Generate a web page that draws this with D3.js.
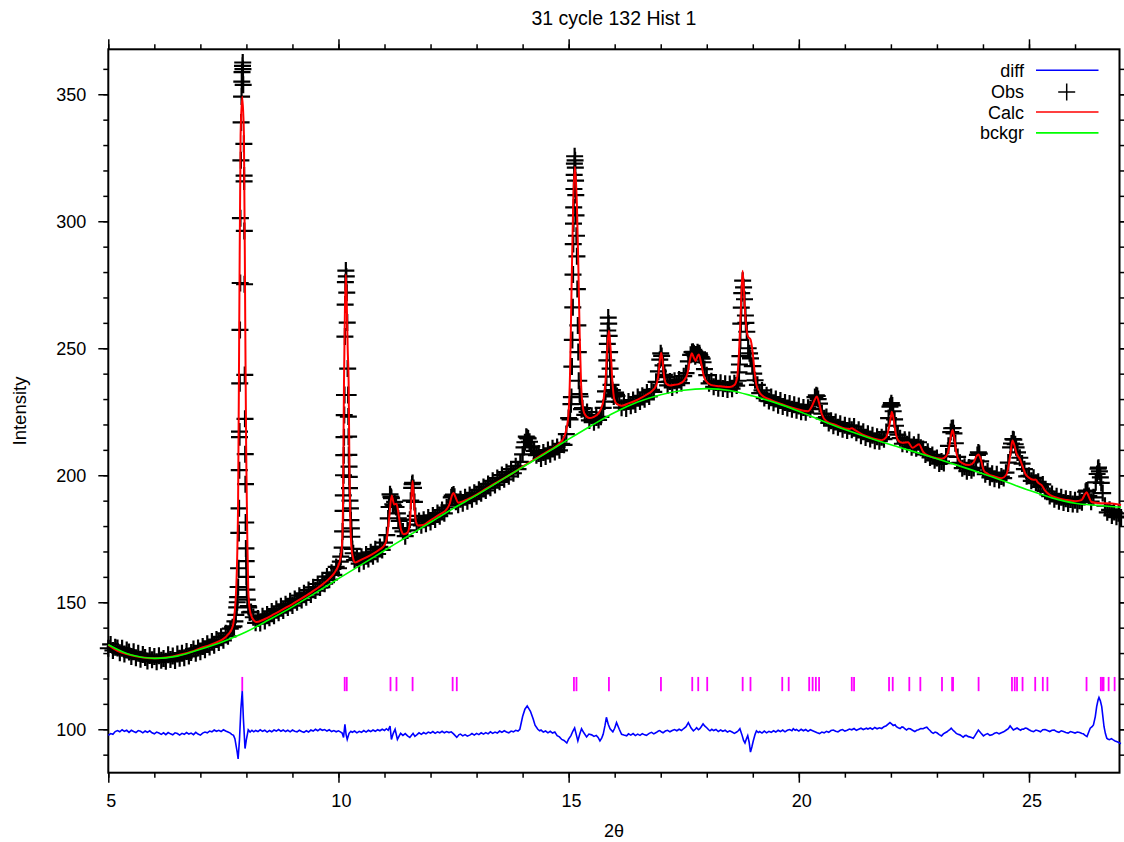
<!DOCTYPE html>
<html>
<head>
<meta charset="utf-8">
<script src="https://d3js.org/d3.v7.min.js"></script>
<style>
  body { margin: 0; background: #fff; }
  svg { display: block; }
  text { font-family: "Liberation Sans", Arial, Helvetica, sans-serif; fill: #000; }
</style>
</head>
<body>
<svg id="chart"></svg>
<script>
// ---- data (2theta, intensity) ----

// observed scan
var obsScan = [
  [5.00,131.9],[5.05,133.4],[5.10,131.0],[5.15,132.3],[5.20,132.0],[5.25,130.1],[5.30,131.9],[5.35,129.6],[5.40,131.2],[5.45,130.4],
  [5.50,128.6],[5.55,130.5],[5.60,128.2],[5.65,129.9],[5.70,127.6],[5.75,129.4],[5.80,128.3],[5.85,126.9],[5.90,129.0],[5.95,127.4],
  [6.00,128.6],[6.05,126.6],[6.10,128.9],[6.15,127.2],[6.20,127.9],[6.25,126.8],[6.30,129.3],[6.35,127.5],[6.40,128.8],[6.45,127.1],
  [6.50,129.6],[6.55,128.0],[6.60,129.9],[6.65,128.2],[6.70,130.6],[6.75,128.8],[6.80,130.2],[6.85,131.6],[6.90,129.9],[6.95,132.0],
  [7.00,130.5],[7.05,132.6],[7.10,131.3],[7.15,133.7],[7.20,132.4],[7.25,134.6],[7.30,133.1],[7.35,135.3],[7.40,134.2],[7.45,136.4],
  [7.50,135.0],[7.55,137.8],[7.60,136.6],[7.65,139.6],[7.70,140.2],[7.75,142.5],[7.80,150.0],[7.85,215.0],[7.90,355.0],[7.95,318.0],
  [8.00,160.0],[8.05,148.0],[8.10,146.2],[8.15,144.1],[8.20,141.9],[8.25,143.6],[8.30,141.8],[8.35,144.5],[8.40,142.6],[8.45,145.2],
  [8.50,143.9],[8.55,146.4],[8.60,144.7],[8.65,147.3],[8.70,145.9],[8.75,148.4],[8.80,146.8],[8.85,149.2],[8.90,147.9],[8.95,150.4],
  [9.00,148.7],[9.05,151.3],[9.10,150.0],[9.15,152.6],[9.20,150.9],[9.25,153.5],[9.30,152.0],[9.35,154.8],[9.40,153.1],[9.45,155.9],
  [9.50,154.6],[9.55,157.2],[9.60,155.8],[9.65,158.7],[9.70,157.3],[9.75,160.1],[9.80,158.9],[9.85,161.6],[9.90,160.8],[9.95,163.9],
  [10.00,163.4],[10.05,168.0],[10.10,186.0],[10.15,276.0],[10.20,242.0],[10.25,190.0],[10.30,171.0],[10.35,166.6],[10.40,167.4],[10.45,165.2],
  [10.50,167.9],[10.55,166.1],[10.60,168.8],[10.65,167.0],[10.70,169.7],[10.75,168.1],[10.80,170.9],[10.85,169.0],[10.90,171.8],[10.95,170.6],
  [11.00,173.5],[11.05,176.4],[11.10,187.5],[11.15,191.0],[11.20,188.0],[11.25,187.5],[11.30,183.0],[11.35,179.2],[11.40,177.9],[11.45,176.0],
  [11.50,178.3],[11.55,182.5],[11.60,196.5],[11.65,189.5],[11.70,180.6],[11.75,182.0],[11.80,180.3],[11.85,182.5],[11.90,180.9],[11.95,183.4],
  [12.00,181.6],[12.05,184.2],[12.10,182.6],[12.15,185.1],[12.20,183.9],[12.25,186.3],[12.30,185.0],[12.35,187.3],[12.40,188.2],[12.45,191.3],
  [12.50,192.4],[12.55,189.6],[12.60,188.4],[12.65,190.6],[12.70,189.0],[12.75,191.3],[12.80,189.8],[12.85,192.2],[12.90,190.6],[12.95,193.1],
  [13.00,191.7],[13.05,194.3],[13.10,192.9],[13.15,195.4],[13.20,194.0],[13.25,196.6],[13.30,195.1],[13.35,197.8],[13.40,196.2],[13.45,198.9],
  [13.50,197.4],[13.55,200.1],[13.60,198.4],[13.65,201.2],[13.70,199.6],[13.75,202.4],[13.80,200.8],[13.85,203.5],[13.90,202.4],[13.95,205.3],
  [14.00,208.2],[14.05,213.0],[14.10,214.8],[14.15,213.2],[14.20,211.4],[14.25,209.6],[14.30,207.9],[14.35,208.6],[14.40,206.6],[14.45,209.0],
  [14.50,207.4],[14.55,209.9],[14.60,208.3],[14.65,210.6],[14.70,209.2],[14.75,211.1],[14.80,209.8],[14.85,212.4],[14.90,212.0],[14.95,216.2],
  [15.00,222.5],[15.05,228.0],[15.10,291.0],[15.15,316.0],[15.20,259.0],[15.25,231.0],[15.30,226.4],[15.35,223.8],[15.40,224.9],[15.45,221.6],
  [15.50,223.4],[15.55,220.9],[15.60,222.7],[15.65,221.8],[15.70,223.0],[15.75,226.5],[15.80,233.0],[15.85,257.0],[15.90,242.0],[15.95,233.5],
  [16.00,231.8],[16.05,231.2],[16.10,228.9],[16.15,226.6],[16.20,228.7],[16.25,226.3],[16.30,229.0],[16.35,227.4],[16.40,229.6],[16.45,227.9],
  [16.50,230.8],[16.55,229.0],[16.60,231.3],[16.65,229.9],[16.70,232.6],[16.75,231.0],[16.80,233.6],[16.85,232.8],[16.90,236.8],[16.95,240.9],
  [17.00,248.0],[17.05,243.3],[17.10,238.6],[17.15,235.4],[17.20,236.9],[17.25,234.6],[17.30,237.2],[17.35,235.5],[17.40,237.7],[17.45,236.3],
  [17.50,239.0],[17.55,240.2],[17.60,244.8],[17.65,247.4],[17.70,248.6],[17.75,246.9],[17.80,248.4],[17.85,247.2],[17.90,245.9],[17.95,241.8],
  [18.00,239.4],[18.05,236.2],[18.10,237.0],[18.15,234.8],[18.20,236.5],[18.25,234.3],[18.30,236.4],[18.35,234.2],[18.40,236.0],[18.45,233.8],
  [18.50,235.9],[18.55,234.1],[18.60,236.2],[18.65,235.3],[18.70,240.5],[18.75,266.0],[18.80,274.0],[18.85,260.0],[18.90,250.0],[18.95,246.0],
  [19.00,243.0],[19.05,237.4],[19.10,235.6],[19.15,232.3],[19.20,233.4],[19.25,230.4],[19.30,231.5],[19.35,229.2],[19.40,230.8],[19.45,228.5],
  [19.50,230.0],[19.55,227.6],[19.60,229.4],[19.65,227.1],[19.70,228.6],[19.75,226.5],[19.80,228.3],[19.85,226.0],[19.90,227.8],[19.95,225.6],
  [20.00,227.3],[20.05,225.0],[20.10,226.7],[20.15,224.8],[20.20,226.6],[20.25,226.0],[20.30,227.6],[20.35,230.8],[20.40,231.2],[20.45,228.2],
  [20.50,224.3],[20.55,222.4],[20.60,222.9],[20.65,220.6],[20.70,221.5],[20.75,219.5],[20.80,221.0],[20.85,218.9],[20.90,220.3],[20.95,218.1],
  [21.00,219.7],[21.05,217.6],[21.10,219.3],[21.15,217.9],[21.20,219.2],[21.25,216.7],[21.30,217.9],[21.35,215.6],[21.40,217.1],[21.45,214.9],
  [21.50,216.3],[21.55,214.3],[21.60,215.8],[21.65,213.6],[21.70,215.2],[21.75,213.4],[21.80,215.0],[21.85,214.2],[21.90,217.0],[21.95,222.5],
  [22.00,227.6],[22.05,225.2],[22.10,219.5],[22.15,216.0],[22.20,214.6],[22.25,212.4],[22.30,214.0],[22.35,212.2],[22.40,213.9],[22.45,211.0],
  [22.50,212.0],[22.55,210.6],[22.60,213.0],[22.65,210.8],[22.70,210.3],[22.75,208.2],[22.80,209.3],[22.85,207.0],[22.90,208.0],[22.95,205.9],
  [23.00,206.8],[23.05,204.6],[23.10,205.4],[23.15,204.8],[23.20,207.4],[23.25,211.6],[23.30,217.0],[23.35,218.6],[23.40,212.6],[23.45,207.2],
  [23.50,204.9],[23.55,202.8],[23.60,203.4],[23.65,201.6],[23.70,203.1],[23.75,202.0],[23.80,202.9],[23.85,205.8],[23.90,209.0],[23.95,205.5],
  [24.00,202.6],[24.05,200.4],[24.10,201.5],[24.15,199.2],[24.20,200.6],[24.25,198.6],[24.30,200.4],[24.35,198.1],[24.40,199.5],[24.45,198.9],
  [24.50,201.0],[24.55,205.0],[24.60,211.0],[24.65,214.2],[24.70,212.2],[24.75,209.0],[24.80,206.9],[24.85,204.6],[24.90,202.4],[24.95,199.6],
  [25.00,199.8],[25.05,197.8],[25.10,199.0],[25.15,197.1],[25.20,197.4],[25.25,195.4],[25.30,196.4],[25.35,193.8],[25.40,193.6],[25.45,191.8],
  [25.50,192.6],[25.55,190.6],[25.60,191.7],[25.65,189.8],[25.70,191.3],[25.75,189.3],[25.80,190.8],[25.85,188.9],[25.90,190.5],[25.95,188.7],
  [26.00,190.2],[26.05,188.6],[26.10,190.0],[26.15,189.4],[26.20,191.4],[26.25,194.0],[26.30,191.8],[26.35,189.6],[26.40,191.3],[26.45,197.2],
  [26.50,202.6],[26.55,199.2],[26.60,193.0],[26.65,188.0],[26.70,185.4],[26.75,186.4],[26.80,184.2],[26.85,185.5],[26.90,183.7],[26.95,185.0],
  [27.00,183.4]
];

// observed scan, extra points on the steep flanks of the peaks
var obsPeaks = [
  [7.73,140.5],[7.77,145],[7.79,148],[7.81,152],[7.82,156],[7.83,163.4],[7.835,177.3],[7.84,187],[7.845,202],
  [7.85,217.2],[7.855,236.2],[7.86,257.2],[7.865,275.7],[7.87,301.2],[7.88,324],[7.885,338.9],[7.895,349.1],[7.905,358.7],
  [7.92,362.5],[7.915,361.2],[7.925,359.9],[7.93,353.7],[7.945,330.5],[7.95,315.7],[7.955,296.2],[7.96,275.2],[7.965,239.5],
  [7.97,222.2],[7.975,208.3],[7.98,196.5],[7.985,181.4],[7.99,171.2],[7.995,166.2],[8.01,155],[8.02,151],[8.04,148.5],[8.07,146],
  [10.04,166],[10.08,171.5],[10.09,177.9],[10.105,192.1],[10.11,200],[10.115,207.9],[10.12,215],
  [10.125,223.7],[10.13,231.6],[10.14,254.6],[10.145,267.2],[10.16,280.6],[10.17,278.3],[10.18,271.9],
  [10.19,260.1],[10.21,231.6],[10.215,223.1],[10.22,215.2],[10.225,208],[10.23,203.4],[10.235,199.4],
  [10.24,194.9],[10.26,187],[10.27,182.3],[10.28,179.1],[10.29,175.8],[10.32,169.3],
  [11.08,183],[11.12,192.5],[11.14,191.5],[11.18,188.5],[11.22,189.5],[11.28,185],[11.32,182],
  [11.57,190],[11.59,195],[11.61,197],[11.63,195],[11.67,184],
  [12.47,192],[12.52,191.5],
  [14.03,211],[14.08,215.2],[14.12,214.5],[14.18,211],
  [15.03,222],[15.06,230.8],[15.07,242.8],[15.08,253.3],[15.09,266.1],[15.095,279],
  [15.105,299.1],[15.11,305.5],[15.115,312.7],[15.12,318.3],[15.125,322.7],[15.13,325.6],[15.14,324],[15.145,321.1],
  [15.155,310.3],[15.16,302.3],[15.17,294.3],[15.18,286.2],[15.19,273.3],[15.21,248.5],
  [15.22,237.2],[15.24,232],[15.28,226],
  [15.78,229],[15.82,238.8],[15.83,245.2],[15.84,251.7],[15.86,262.1],[15.87,259.7],[15.88,254.9],
  [15.89,248.5],[15.92,235.6],[15.98,231],[16.02,232.5],
  [16.98,245.5],[17.02,247],[17.08,239.5],
  [17.68,248.5],[17.72,248],[17.76,247.5],[17.84,248],[17.88,246.5],[17.92,244.5],
  [18.68,237.2],[18.71,243.6],[18.72,246.9],[18.73,253.3],[18.74,259.7],[18.76,271.7],
  [18.78,276.6],[18.82,269.3],[18.84,262.9],[18.87,256.5],[18.93,248],[18.99,243],[19.02,240],
  [20.38,231.5],[20.42,230],
  [21.98,227],[22.01,228.4],[22.03,227.5],[22.08,222],
  [23.32,218.5],[23.37,216.5],
  [23.88,208],[23.92,208.5],
  [24.62,212.5],[24.67,214],[24.72,211],
  [26.23,193.5],[26.27,193.8],
  [26.48,200.5],[26.51,203],[26.53,201.5],[26.57,197]
];

// calculated profile
var calc = [
  [5.0,133.2],[5.2,130.9],[5.4,129.6],[5.6,128.7],[5.8,128.2],[6.0,128.0],[6.2,128.2],[6.4,128.7],[6.6,129.5],[6.8,130.5],
  [7.0,131.9],[7.2,133.1],[7.4,134.6],[7.5,135.6],[7.6,137.3],[7.68,139.4],[7.72,142],[7.75,147],[7.78,156],[7.80,168],
  [7.82,190],[7.845,260],[7.874,334],[7.91,349],[7.946,334],[7.975,260],[7.995,210],[8.02,175],[8.04,155],[8.07,147.5],
  [8.12,144],[8.22,142.2],[8.4,143.4],[8.6,145.3],[8.8,147.3],[9.0,149.3],[9.2,151.5],[9.4,153.8],[9.6,156.3],[9.8,159.3],
  [9.9,161.3],[10.0,164.5],[10.04,167],[10.07,171],[10.09,178],[10.10,190],[10.11,215],[10.12,237],[10.14,265],[10.16,279],
  [10.18,268],[10.20,250],[10.22,237],[10.24,200],[10.26,180],[10.28,172],[10.31,168],[10.36,165.7],[10.5,166.8],[10.7,168.6],
  [10.9,170.9],[11.0,172.5],[11.05,175],[11.10,183],[11.155,192],[11.21,188.5],[11.26,188.8],[11.31,184],[11.36,178.5],
  [11.42,176.8],[11.50,177.5],[11.55,181],[11.58,190],[11.61,197.7],[11.64,190],[11.68,182],[11.73,180.2],[11.84,180.4],
  [12.0,182.3],[12.2,184.6],[12.35,186.6],[12.42,189],[12.46,191.8],[12.50,193],[12.54,191.5],[12.60,189.2],[12.70,189.7],
  [12.8,190.5],[13.0,192.4],[13.2,194.6],[13.4,196.8],[13.6,198.9],[13.8,201.0],[14.0,203.4],[14.2,205.6],[14.4,207.8],
  [14.6,210.0],[14.8,212.5],[14.90,215],[14.95,218],[15.00,225],[15.03,240],[15.06,270],[15.10,308],[15.137,321.5],
  [15.18,306],[15.21,283],[15.24,255],[15.27,236],[15.30,228],[15.35,224],[15.45,222.5],[15.55,223],[15.60,223.5],
  [15.70,226],[15.76,230],[15.80,237],[15.84,250],[15.875,257],[15.91,250],[15.95,237],[15.99,230],[16.05,228],[16.15,227.4],
  [16.3,228.3],[16.5,229.8],[16.7,231.8],[16.8,233],[16.9,235.3],[16.95,239.5],[16.98,245],[17.01,248.2],[17.04,245],
  [17.07,239.5],[17.12,236],[17.20,235.3],[17.30,235.6],[17.40,236],[17.50,237.2],[17.58,240],[17.63,245],[17.675,248],
  [17.72,246.3],[17.76,245],[17.80,247],[17.83,247.5],[17.88,244],[17.93,239.5],[17.98,237.2],[18.10,235.5],[18.30,235],
  [18.50,234.7],[18.60,235.5],[18.66,238.5],[18.70,248],[18.74,265],[18.78,280.5],[18.82,268],[18.86,258],[18.90,254.5],
  [18.95,253.5],[19.00,248],[19.04,240.5],[19.08,235.5],[19.15,232.5],[19.25,230.8],[19.4,229.6],[19.6,228.2],[19.8,226.9],
  [20.0,225.9],[20.10,225.4],[20.20,225.2],[20.28,227],[20.34,229.5],[20.39,231],[20.44,228.5],[20.50,224],[20.60,221.3],
  [20.8,219.8],[21.0,218.4],[21.1,218.2],[21.15,218.5],[21.22,217.8],[21.4,215.9],[21.6,214.6],[21.8,213.8],[21.9,215],
  [21.95,218],[22.00,223],[22.02,225],[22.06,222],[22.10,217],[22.17,213.5],[22.25,212.8],[22.37,213],[22.47,210.8],
  [22.61,212.2],[22.70,209.2],[22.84,207.5],[23.0,206.7],[23.10,206.5],[23.20,207.5],[23.26,210.5],[23.30,215],[23.34,217.8],
  [23.38,214.5],[23.42,209],[23.48,205.8],[23.55,204.8],[23.70,204],[23.80,205.2],[23.86,207.5],[23.90,208.2],[23.95,206.5],
  [24.02,201.8],[24.10,200.6],[24.25,199.5],[24.40,198.8],[24.50,200],[24.56,204],[24.60,209],[24.64,213.7],[24.68,212],
  [24.73,208.5],[24.80,206.5],[24.86,203.5],[24.92,200.6],[25.00,199],[25.10,198.2],[25.14,198.3],[25.20,197],[25.27,196.2],
  [25.35,194],[25.46,192.2],[25.60,191.2],[25.80,190.3],[26.00,189.8],[26.14,190.2],[26.20,192],[26.25,193.3],[26.30,191.5],
  [26.36,189.5],[26.50,189.1],[26.80,188.9],[27.00,188.3]
];

// background
var bckgr = [
  [5.0,133.3],[5.5,129.2],[6.0,127.9],[6.5,128.8],[7.0,131.5],[7.5,134.6],[8.0,138.4],[8.5,143.2],[9.0,148.2],[9.5,153.7],
  [10.0,159.3],[10.5,164.8],[11.0,170.4],[11.5,175.9],[12.0,181.5],[12.5,187.0],[13.0,192.2],[13.5,197.7],[14.0,203.2],
  [14.5,208.6],[15.0,214.2],[15.5,219.6],[16.0,224.7],[16.5,228.8],[17.0,231.7],[17.5,233.5],[18.0,234.1],[18.5,233.4],
  [19.0,231.2],[19.5,228.5],[20.0,225.2],[20.5,221.5],[21.0,218.0],[21.5,214.9],[22.0,212.0],[22.5,209.3],[23.0,206.5],
  [23.5,203.6],[24.0,200.6],[24.5,197.4],[25.0,194.1],[25.5,191.1],[26.0,189.0],[26.5,188.1],[27.0,187.4]
];

// difference curve (offset)
var diff = [
  [5.00,97.6],[5.05,98.3],[5.10,98.0],[5.15,99.1],[5.20,99.5],[5.25,99.0],[5.30,99.8],[5.35,99.2],[5.40,99.6],[5.45,98.8],
  [5.50,99.6],[5.55,99.1],[5.60,98.7],[5.65,99.5],[5.70,99.2],[5.75,98.6],[5.80,99.3],[5.85,98.8],[5.90,99.4],[5.95,98.6],
  [6.00,98.2],[6.05,98.9],[6.10,98.5],[6.15,98.0],[6.20,98.6],[6.25,97.9],[6.30,98.7],[6.35,98.2],[6.40,97.8],[6.45,98.6],
  [6.50,98.3],[6.55,97.7],[6.60,98.4],[6.65,98.0],[6.70,98.7],[6.75,98.1],[6.80,98.5],[6.85,97.9],[6.90,98.8],[6.95,98.1],
  [7.00,97.7],[7.05,98.5],[7.10,98.9],[7.15,98.6],[7.20,99.3],[7.25,99.0],[7.30,99.7],[7.35,99.2],[7.40,99.6],[7.45,99.1],
  [7.50,99.8],[7.55,99.3],[7.60,98.9],[7.65,98.5],[7.68,98.0],[7.72,97.6],[7.75,96.3],[7.80,91],[7.82,88.3],[7.85,96],
  [7.88,108],[7.91,115.1],[7.935,104],[7.97,92.4],[8.0,96],[8.04,99.8],[8.08,98.9],[8.12,99.6],[8.16,99.0],[8.20,99.5],
  [8.25,99.1],[8.30,99.8],[8.35,99.2],[8.40,99.6],[8.45,98.9],[8.50,99.5],[8.55,99.0],[8.60,99.7],[8.65,99.3],[8.70,99.9],
  [8.75,99.2],[8.80,99.7],[8.85,99.1],[8.90,99.6],[8.95,99.0],[9.00,99.7],[9.05,99.2],[9.10,99.0],[9.15,99.6],[9.20,99.1],
  [9.25,98.8],[9.30,99.4],[9.35,98.9],[9.40,99.7],[9.45,99.3],[9.50,100.0],[9.55,99.4],[9.60,100.1],[9.65,99.6],[9.70,99.9],
  [9.75,99.3],[9.80,99.8],[9.85,99.1],[9.90,99.5],[9.95,99.0],[10.00,99.4],[10.05,98.9],[10.08,98.5],[10.11,96.8],[10.14,101.9],
  [10.165,98],[10.19,96],[10.23,98.4],[10.27,99.2],[10.30,98.8],[10.35,99.3],[10.40,98.6],[10.45,99.2],[10.50,98.8],[10.55,99.5],
  [10.60,98.9],[10.65,99.6],[10.70,99.1],[10.75,99.7],[10.80,99.2],[10.85,99.8],[10.90,99.4],[10.95,100.0],[11.00,99.5],[11.04,100.2],
  [11.08,99.6],[11.12,101.3],[11.15,96],[11.19,98.4],[11.23,100],[11.28,96],[11.32,97.4],[11.35,98.4],[11.40,97.6],[11.45,98.3],
  [11.50,97.4],[11.55,96.8],[11.60,97.9],[11.62,98.4],[11.66,97.2],[11.70,97.8],[11.75,98.6],[11.80,98.0],[11.85,98.7],[11.90,98.2],
  [11.95,98.9],[12.00,98.5],[12.05,99.1],[12.10,98.4],[12.15,99.0],[12.20,98.6],[12.25,99.2],[12.30,98.6],[12.35,99.1],[12.40,98.7],
  [12.45,99.0],[12.50,98.2],[12.57,96.8],[12.62,97.9],[12.65,98.1],[12.70,97.4],[12.75,97.9],[12.80,97.3],[12.86,97.8],[12.90,98.3],
  [12.95,97.7],[13.00,98.4],[13.05,97.9],[13.10,98.6],[13.15,98.1],[13.20,98.7],[13.25,98.2],[13.30,99.0],[13.35,98.4],[13.40,98.9],
  [13.45,98.5],[13.50,99.3],[13.55,98.8],[13.60,99.4],[13.65,98.9],[13.70,98.6],[13.75,99.3],[13.80,99.0],[13.85,99.6],[13.90,99.3],
  [13.94,100.0],[14.0,105],[14.05,107.9],[14.10,109.2],[14.17,107.1],[14.23,104],[14.27,101.6],[14.33,100],[14.37,99.4],[14.40,99.7],
  [14.45,98.9],[14.50,99.3],[14.55,98.6],[14.60,99.2],[14.65,98.5],[14.70,98.9],[14.75,97.5],[14.80,97.0],[14.85,96],[14.90,95.6],
  [14.96,94.6],[15.00,96.2],[15.05,97.5],[15.09,99.2],[15.13,100.5],[15.17,97.6],[15.20,95.4],[15.24,98.0],[15.28,100.2],[15.33,98.6],
  [15.39,97],[15.44,98.1],[15.50,97.8],[15.55,97.2],[15.60,97.6],[15.64,96.8],[15.68,95.4],[15.72,96.6],[15.75,98],[15.79,101.5],
  [15.82,104.7],[15.86,102],[15.90,100.2],[15.96,99],[16.00,100.4],[16.04,102.6],[16.1,100],[16.15,98],[16.20,97.7],[16.26,97.4],
  [16.30,98.2],[16.35,97.7],[16.40,98.3],[16.45,97.5],[16.50,98.1],[16.55,97.6],[16.60,98.3],[16.65,97.8],[16.69,97.6],[16.75,98.4],
  [16.80,98.8],[16.85,98.2],[16.90,98.7],[16.95,99.3],[16.98,99.5],[17.02,98.9],[17.05,98.6],[17.10,99.3],[17.15,99.6],[17.20,99.0],
  [17.25,99.5],[17.30,99.9],[17.35,99.4],[17.40,100.0],[17.45,99.5],[17.50,100.3],[17.55,101.0],[17.60,102.6],[17.66,100.5],[17.71,99.4],
  [17.75,100.0],[17.78,100.6],[17.82,99.8],[17.85,100.2],[17.88,101.0],[17.92,102.1],[17.96,101.2],[18.0,100.6],[18.04,99.8],[18.07,99.4],
  [18.11,100.0],[18.15,99.5],[18.20,99.9],[18.25,99.1],[18.30,99.7],[18.35,99.2],[18.40,99.6],[18.45,98.9],[18.50,99.4],[18.55,98.9],
  [18.60,98.4],[18.65,98.9],[18.69,99.5],[18.72,100.2],[18.77,97.5],[18.80,95.6],[18.83,94.6],[18.86,96.2],[18.89,97.5],[18.92,95.0],
  [18.95,91],[18.98,93.0],[19.01,95.4],[19.05,98.0],[19.08,99.4],[19.12,98.7],[19.15,99.1],[19.20,98.5],[19.25,99.3],[19.30,98.6],
  [19.35,99.2],[19.40,98.8],[19.45,99.4],[19.50,98.9],[19.55,99.6],[19.60,99.1],[19.65,99.7],[19.70,99.0],[19.75,99.6],[19.80,99.9],
  [19.85,99.4],[19.88,100.2],[19.92,99.6],[19.95,99.9],[20.00,99.3],[20.05,100.0],[20.10,99.4],[20.15,99.9],[20.20,99.2],[20.25,99.8],
  [20.30,99.4],[20.35,99.0],[20.40,98.6],[20.45,98.3],[20.50,98.9],[20.55,98.6],[20.60,99.2],[20.65,98.8],[20.70,99.5],[20.75,99.7],
  [20.80,99.2],[20.85,99.0],[20.90,99.6],[20.95,99.9],[21.00,99.3],[21.05,99.6],[21.10,100.1],[21.15,99.8],[21.20,100.3],[21.25,99.6],
  [21.30,100.0],[21.35,100.4],[21.40,99.9],[21.47,100.4],[21.50,100.1],[21.55,100.5],[21.60,100.0],[21.65,100.7],[21.70,100.2],[21.75,100.6],
  [21.80,100.3],[21.85,101.0],[21.90,101.4],[21.94,102.0],[21.98,102.6],[22.02,102.0],[22.05,101.5],[22.09,101.8],[22.12,101.0],[22.16,100.6],
  [22.20,100.3],[22.24,100.9],[22.27,100.8],[22.30,100.2],[22.34,99.7],[22.38,100.3],[22.42,100.2],[22.47,99.6],[22.52,99.1],[22.56,99.6],
  [22.60,99.8],[22.65,100.3],[22.70,100.2],[22.74,100.6],[22.78,100.8],[22.82,100.0],[22.85,99.5],[22.88,98.9],[22.92,98.4],[22.96,98.9],
  [23.00,98.6],[23.05,97.9],[23.10,97.4],[23.14,98.2],[23.18,98.6],[23.22,99.0],[23.25,99.5],[23.28,99.9],[23.31,100.4],[23.34,99.8],
  [23.37,99.3],[23.42,98.4],[23.46,98.0],[23.50,97.8],[23.54,97.3],[23.57,96.9],[23.61,97.5],[23.64,97.6],[23.68,97.1],[23.71,97.0],
  [23.75,96.8],[23.79,96.5],[23.82,97.3],[23.85,98.2],[23.90,99.7],[23.95,98.6],[24.01,97.4],[24.05,97.9],[24.10,98.3],[24.15,97.6],
  [24.20,97.8],[24.25,98.4],[24.30,98.7],[24.35,98.2],[24.40,98.6],[24.45,99.0],[24.50,99.6],[24.55,100.2],[24.59,101.3],[24.63,100.4],
  [24.66,99.7],[24.70,100.1],[24.74,100.5],[24.78,100.0],[24.82,99.6],[24.85,100.1],[24.88,100.0],[24.92,100.5],[24.95,100.4],[25.00,99.8],
  [25.05,99.3],[25.10,99.1],[25.15,99.7],[25.20,99.4],[25.25,99.0],[25.30,99.8],[25.35,99.9],[25.40,99.5],[25.45,99.1],[25.50,99.6],
  [25.55,99.7],[25.60,99.1],[25.65,98.8],[25.70,99.4],[25.75,99.1],[25.80,98.7],[25.85,98.5],[25.90,99.1],[25.95,98.8],[26.00,98.5],
  [26.05,98.9],[26.10,98.7],[26.15,98.3],[26.18,98.2],[26.22,97.6],[26.26,97.1],[26.30,99.0],[26.33,100.4],[26.37,101.0],[26.40,101.7],
  [26.44,105],[26.47,108.9],[26.50,111.5],[26.52,112.5],[26.55,111.2],[26.58,108.9],[26.63,101],[26.66,98.3],[26.69,96.5],[26.72,96.1],
  [26.75,95.9],[26.79,96.3],[26.83,95.8],[26.87,95.4],[26.90,95.2],[26.94,94.9],[26.98,94.5],[27.0,94.4]
];

// reflection positions
var refl = [7.91, 10.135, 10.18, 11.13, 11.26, 11.61, 12.48, 12.57, 15.115, 15.17, 15.875, 17.005, 17.685, 17.815, 18.01,
  18.78, 18.95, 19.64, 19.78, 20.225, 20.30, 20.37, 20.44, 21.15, 21.20, 21.96, 22.04, 22.40, 22.64, 23.11, 23.33, 23.35,
  23.905, 24.63, 24.69, 24.74, 24.86, 25.135, 25.30, 25.40, 26.25, 26.56, 26.59, 26.62, 26.73, 26.86];

var xMajor = [5, 10, 15, 20, 25];
var xMinor = d3.range(5, 27, 1);
var yMajor = [100, 150, 200, 250, 300, 350];
var yMinor = d3.range(90, 370, 10);

var legendItems = ["diff", "Obs", "Calc", "bckgr"];
var legendColors = ["#0000ff", null, "#ff0000", "#00ff00"];

// ---- layout ----
var W = 1124, H = 842;
var plot = {left: 108.3, right: 1119.5, top: 49.3, bottom: 772.7};

var xScale = d3.scaleLinear().domain([5, 26.966]).range([plot.left, plot.right]);
var yScale = d3.scaleLinear().domain([82.9, 367.7]).range([plot.bottom, plot.top]);

var svg = d3.select("#chart").attr("width", W).attr("height", H);

function styleAxis(g) {
  g.select(".domain").remove();
  g.selectAll(".tick line").attr("stroke", "#000").attr("stroke-width", 1.5);
  g.selectAll(".tick text").style("font-size", "18px").attr("fill", "#000");
}

// bottom
svg.append("g").attr("transform", "translate(0," + plot.bottom + ")")
    .call(d3.axisBottom(xScale).tickValues(xMinor).tickSize(5).tickSizeOuter(0).tickFormat(""))
    .call(styleAxis);
svg.append("g").attr("transform", "translate(0," + plot.bottom + ")")
    .call(d3.axisBottom(xScale).tickValues(xMajor).tickSize(10).tickSizeOuter(0).tickPadding(12).tickFormat(d3.format("d")))
    .call(styleAxis)
    .selectAll(".tick text").attr("dx", 2.4);
// top
svg.append("g").attr("transform", "translate(0," + plot.top + ")")
    .call(d3.axisTop(xScale).tickValues(xMinor).tickSize(5).tickSizeOuter(0).tickFormat(""))
    .call(styleAxis);
svg.append("g").attr("transform", "translate(0," + plot.top + ")")
    .call(d3.axisTop(xScale).tickValues(xMajor).tickSize(10).tickSizeOuter(0).tickFormat(""))
    .call(styleAxis);
// left
svg.append("g").attr("transform", "translate(" + plot.left + ",0)")
    .call(d3.axisLeft(yScale).tickValues(yMinor).tickSize(5).tickSizeOuter(0).tickFormat(""))
    .call(styleAxis);
svg.append("g").attr("transform", "translate(" + plot.left + ",0)")
    .call(d3.axisLeft(yScale).tickValues(yMajor).tickSize(10).tickSizeOuter(0).tickPadding(12).tickFormat(d3.format("d")))
    .call(styleAxis);
// right
svg.append("g").attr("transform", "translate(" + plot.right + ",0)")
    .call(d3.axisRight(yScale).tickValues(yMinor).tickSize(5).tickSizeOuter(0).tickFormat(""))
    .call(styleAxis);
svg.append("g").attr("transform", "translate(" + plot.right + ",0)")
    .call(d3.axisRight(yScale).tickValues(yMajor).tickSize(10).tickSizeOuter(0).tickFormat(""))
    .call(styleAxis);

// frame
svg.append("rect")
    .attr("x", plot.left).attr("y", plot.top)
    .attr("width", plot.right - plot.left).attr("height", plot.bottom - plot.top)
    .attr("fill", "none").attr("stroke", "#000").attr("stroke-width", 2);

// observed "+" markers
var half = 8.5;
function plus(cx, cy) {
  return "M" + (cx - half) + "," + cy + "H" + (cx + half) + "M" + cx + "," + (cy - half) + "V" + (cy + half);
}
var obsAll = obsScan.concat(obsPeaks);
svg.append("path")
    .attr("d", obsAll.map(function(d) { return plus(xScale(d[0]), yScale(d[1])); }).join(""))
    .attr("fill", "none").attr("stroke", "#000").attr("stroke-width", 2.2);

var smooth = d3.line()
    .x(function(d) { return xScale(d[0]); })
    .y(function(d) { return yScale(d[1]); })
    .curve(d3.curveMonotoneX);
var plain = d3.line()
    .x(function(d) { return xScale(d[0]); })
    .y(function(d) { return yScale(d[1]); });

// calc
svg.append("path").attr("d", smooth(calc))
    .attr("fill", "none").attr("stroke", "#ff0000").attr("stroke-width", 2);
// background
svg.append("path").attr("d", smooth(bckgr))
    .attr("fill", "none").attr("stroke", "#00ff00").attr("stroke-width", 1.6);
// diff
svg.append("path").attr("d", plain(diff))
    .attr("fill", "none").attr("stroke", "#0000ff").attr("stroke-width", 1.6);

// reflection ticks
svg.append("g").selectAll("line").data(refl).join("line")
    .attr("x1", function(d) { return xScale(d); })
    .attr("x2", function(d) { return xScale(d); })
    .attr("y1", yScale(115))
    .attr("y2", yScale(120.6))
    .attr("stroke", "#ff00ff").attr("stroke-width", 1.8);

// titles
svg.append("text").attr("x", (plot.left + plot.right) / 2).attr("y", 25)
    .attr("text-anchor", "middle").style("font-size", "19.5px")
    .text("31 cycle 132 Hist 1");
svg.append("text").attr("x", (plot.left + plot.right) / 2).attr("y", 837)
    .attr("text-anchor", "middle").style("font-size", "18px")
    .text("2θ");
svg.append("text").attr("transform", "translate(26," + ((plot.top + plot.bottom) / 2) + ") rotate(-90)")
    .attr("text-anchor", "middle").style("font-size", "18.5px")
    .text("Intensity");

// legend
var legend = svg.append("g");
legendItems.forEach(function(name, i) {
  var base = 76.7 + i * 20.9;
  legend.append("text").attr("x", 1024).attr("y", base)
      .attr("text-anchor", "end").style("font-size", "18px").text(name);
  if (legendColors[i]) {
    legend.append("line").attr("x1", 1036).attr("x2", 1098.5)
        .attr("y1", base - 6.5).attr("y2", base - 6.5)
        .attr("stroke", legendColors[i]).attr("stroke-width", 1.6);
  } else {
    legend.append("path").attr("d", plus(1066.7, base - 5.5))
        .attr("stroke", "#000").attr("stroke-width", 1.5);
  }
});
</script>
</body>
</html>
